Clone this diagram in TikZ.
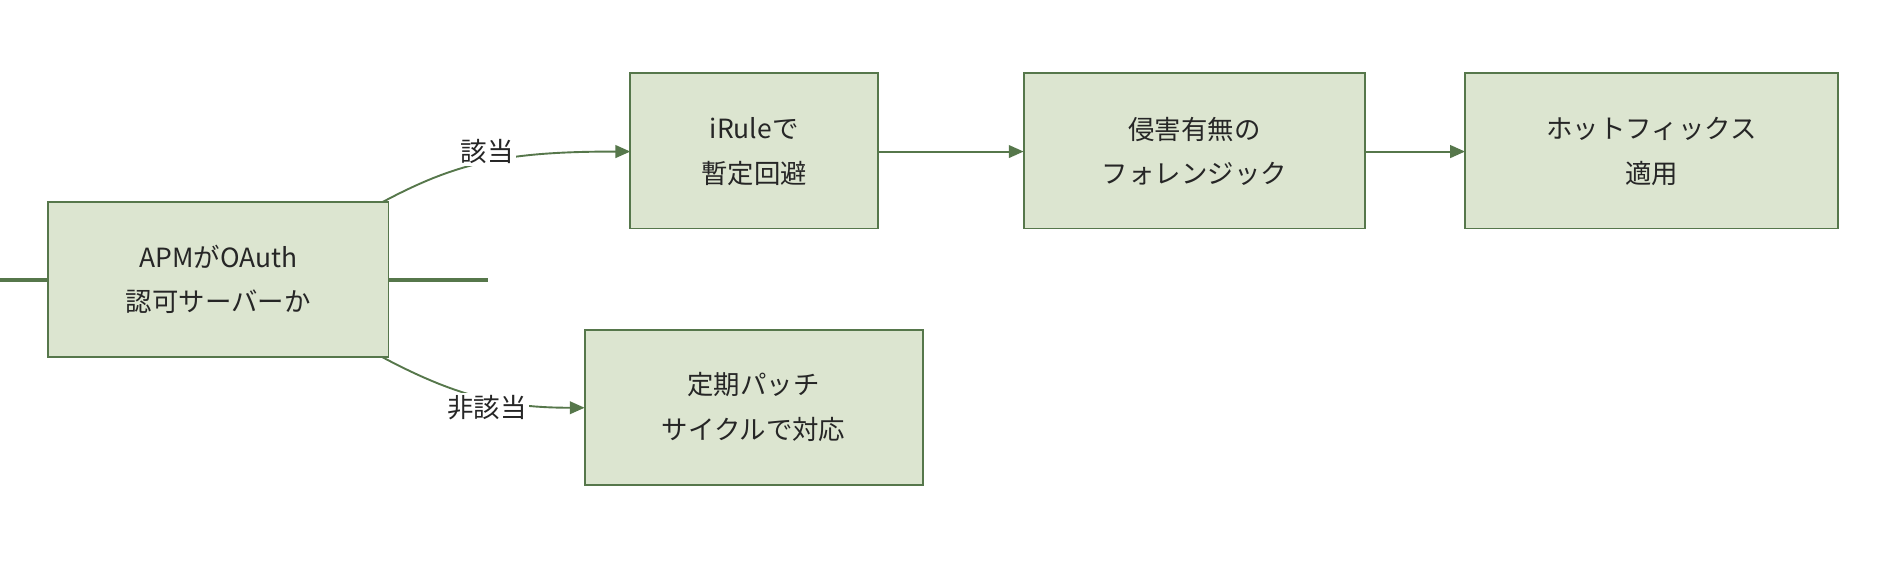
\documentclass[tikz,border=0pt]{standalone}
\usepackage{fontspec}
\setmainfont{Noto Sans CJK JP}
\usetikzlibrary{arrows.meta}
\definecolor{bx}{HTML}{DCE5D0}
\definecolor{ln}{HTML}{56774B}
\begin{document}
\begin{tikzpicture}[x=0.02cm,y=-0.02cm,
  box/.style={draw=ln,fill=bx,line width=0.9pt,align=center,inner sep=0pt,font=\fontsize{12.5pt}{21pt}\selectfont,text=black!85},
  arr/.style={draw=ln,line width=0.9pt,-{Triangle[length=7pt,width=6pt]}},
  lab/.style={fill=white,inner sep=1pt,font=\fontsize{12.5pt}{15pt}\selectfont,text=black!85}]
\useasboundingbox (0,0) rectangle (1568,469);
\node[box,minimum width=283\pgflinewidth,text width=250] (a) at (181.5,232.5) {};
\draw[ln,fill=bx,line width=0.9pt] (40,168) rectangle (323,297);
\node[box,draw=none,fill=none] (a) at (181.5,232.5) {APMがOAuth\\認可サーバーか};
\draw[ln,fill=bx,line width=0.9pt] (524,61) rectangle (730,190);
\node[box,draw=none,fill=none] (b) at (627,126) {iRuleで\\暫定回避};
\draw[ln,fill=bx,line width=0.9pt] (851,61) rectangle (1135,190);
\node[box,draw=none,fill=none] (c) at (993,126) {侵害有無の\\フォレンジック};
\draw[ln,fill=bx,line width=0.9pt] (1218,61) rectangle (1528,190);
\node[box,draw=none,fill=none] (d) at (1373,126) {ホットフィックス\\適用};
\draw[ln,fill=bx,line width=0.9pt] (486,274) rectangle (767,403);
\node[box,draw=none,fill=none] (e) at (626.5,338.5) {定期パッチ\\サイクルで対応};
\coordinate (a1) at (318,168);
\coordinate (a2) at (318,297);
\coordinate (bw) at (524,126);
\coordinate (ew) at (486,339);
\draw[arr] (a1) .. controls (380,135) and (420,126) .. (bw);
\draw[arr] (a2) .. controls (380,330) and (420,339) .. (ew);
\node[lab] (l1) at (405,126) {該当};
\node[lab] (l2) at (405,339) {非該当};
\draw[arr] (730,126) -- (851,126);
\draw[arr] (1135,126) -- (1218,126);
\end{tikzpicture}
\end{document}
